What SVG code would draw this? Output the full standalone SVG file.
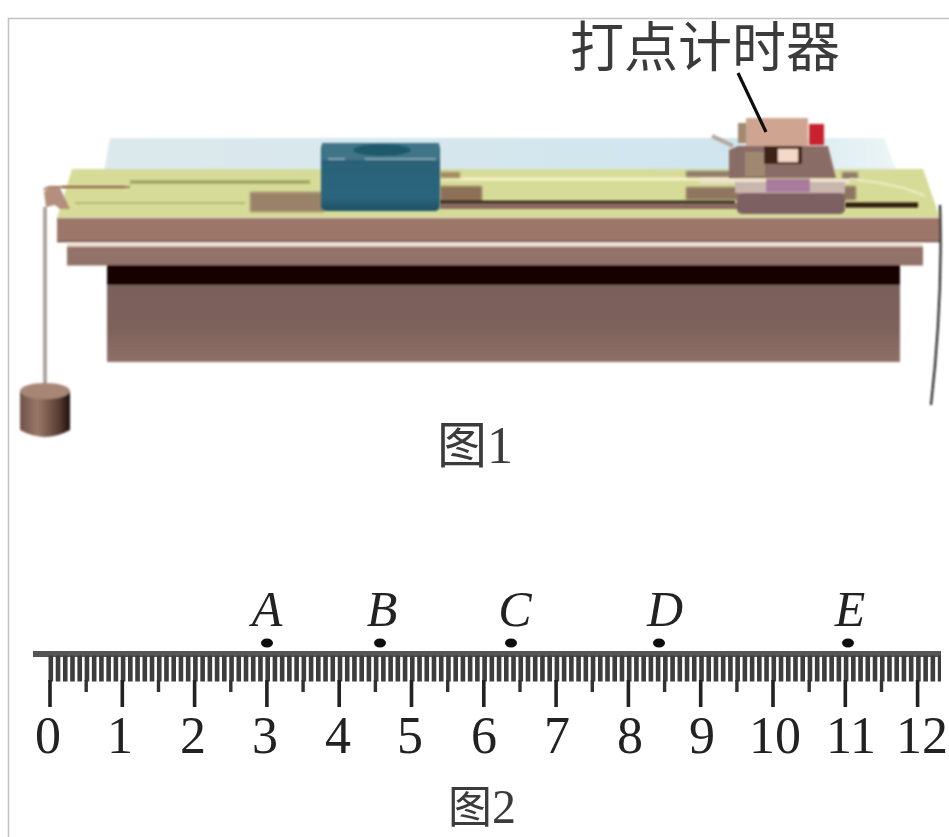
<svg xmlns="http://www.w3.org/2000/svg" width="949" height="837" viewBox="0 0 949 837">
<style>
.cjk{font-family:"Noto Sans CJK SC","Liberation Serif",serif;fill:#3a3a3a}
.num{font-family:"Liberation Serif",serif;font-size:52px;fill:#222;text-anchor:middle}
.let{font-family:"Liberation Serif",serif;font-style:italic;font-size:50px;fill:#222;text-anchor:middle}
.b1{filter:url(#soft)}
.b2{filter:url(#softer)}
</style>
<defs>
<filter id="soft" x="-5%" y="-5%" width="110%" height="110%"><feGaussianBlur stdDeviation="1"/></filter>
<filter id="softer" x="-10%" y="-30%" width="120%" height="160%"><feGaussianBlur stdDeviation="1.600"/></filter>
<filter id="softT" x="-5%" y="-5%" width="110%" height="110%"><feGaussianBlur stdDeviation="0.6"/></filter>
<linearGradient id="skirt" x1="0" y1="0" x2="0" y2="1"><stop offset="0" stop-color="#7a605b"/><stop offset="0.55" stop-color="#7d625c"/><stop offset="1" stop-color="#907068"/></linearGradient>
<linearGradient id="block" x1="0" y1="0" x2="0" y2="1"><stop offset="0" stop-color="#2b5f74"/><stop offset="0.8" stop-color="#2c667e"/><stop offset="1" stop-color="#1f4f62"/></linearGradient>
<linearGradient id="cyl" x1="0" y1="0" x2="1" y2="0"><stop offset="0" stop-color="#6e5248"/><stop offset="0.35" stop-color="#9a7868"/><stop offset="0.8" stop-color="#553a30"/><stop offset="1" stop-color="#1c0f0c"/></linearGradient>
<linearGradient id="sky" x1="0" y1="0" x2="1" y2="0"><stop offset="0" stop-color="#dde9ec"/><stop offset="0.8" stop-color="#cfe5ee"/><stop offset="1" stop-color="#ecf5f6"/></linearGradient>
</defs>
<rect width="949" height="837" fill="#fff"/>
<path d="M8.500 837V18.500H949" fill="none" stroke="#c4c4c4" stroke-width="1.600"/>
<g id="figure1">
<g class="b1">
<polygon points="104,172 110,138 884,138 897,172" fill="url(#sky)"/>
<polygon points="72,169 923,169 940,218 57,218" fill="#d6dc98"/>
<path d="M130 182H310" stroke="#a3a866" stroke-width="4"/>
<path d="M75 203H245" stroke="#b2b86e" stroke-width="2"/>
<path d="M62 187H125" stroke="#a88558" stroke-width="2"/>
<path d="M440 179H735" stroke="#f6f2c6" stroke-width="3"/>
</g>
<g class="b2">
<rect x="250" y="192" width="74" height="20" fill="#9a8268"/>
<rect x="440" y="186" width="42" height="17" fill="#8d7058"/>
<rect x="440" y="172" width="20" height="6" fill="#a08a60"/>
<rect x="686" y="187" width="54" height="13" fill="#8f7460"/>
<rect x="686" y="171" width="54" height="6" fill="#8f7c6c"/>
<rect x="842" y="172" width="16" height="7" fill="#8f7c6c"/>
<rect x="842" y="186" width="14" height="14" fill="#8f7460"/>
</g>
<g class="b1">
<rect x="440" y="203" width="300" height="6" fill="#8a6a60"/>
<path d="M440 202H735" stroke="#1e140c" stroke-width="2.500"/>
<path d="M845 205H918" stroke="#2c1b0a" stroke-width="5"/>
<polygon points="57,218 941,218 941,241 57,241" fill="#9c7769"/>
<path d="M57 241.500H941" stroke="#6b5048" stroke-width="1.500"/>
<rect x="67" y="243" width="856" height="3.500" fill="#f3e0d4"/>
<rect x="67" y="246.500" width="856" height="19" fill="#927269"/>
<rect x="107" y="265" width="793" height="21" fill="#170505"/>
<rect x="107" y="285" width="793" height="77" fill="url(#skirt)"/>
<path d="M940 205Q943 300 931 405" fill="none" stroke="#222" stroke-width="2.200"/>
<path d="M45 207V383" stroke="#a39a96" stroke-width="3.500"/>
<path d="M44 190Q47 186 56 187H130" fill="none" stroke="#a27a60" stroke-width="2"/>
<polygon points="44,192 50,187 60,188 70,209 60,209 55,205 46,207" fill="#b48f7d"/>
<path d="M20 391V430Q45 444 70 430V391Z" fill="url(#cyl)"/>
<ellipse cx="45" cy="391" rx="25" ry="8" fill="#a88674"/>
</g>
<g id="cart" class="b1">
<rect x="321" y="143" width="119" height="68" rx="5" fill="url(#block)"/>
<path d="M322 143H439V160H322Z" fill="#3f7488"/>
<ellipse cx="382" cy="150" rx="29" ry="6" fill="#1f5a6a"/>
<path d="M328 159H345M365 159H436" stroke="#7ca3ae" stroke-width="2"/>
</g>
<g id="timer" class="b1">
<path d="M712 136L733 146" stroke="#b5a59a" stroke-width="4"/>
<polygon points="729,150 738,146 828,146 836,178 729,178" fill="#8a6c66"/>
<rect x="738" y="123" width="14" height="20" fill="#a08a70"/>
<rect x="746" y="118" width="62" height="28" fill="#cfa592"/>
<rect x="809" y="124" width="15" height="21" fill="#c8222e"/>
<rect x="745" y="152" width="20" height="24" fill="#a08870"/>
<rect x="764" y="146" width="38" height="18" fill="#3c2418"/>
<rect x="778" y="149" width="20" height="13" fill="#f5d8c6"/>
<rect x="700" y="179" width="150" height="4" fill="#f0e0d4"/>
<rect x="735" y="182" width="110" height="11" fill="#c8b6ac"/>
<rect x="766" y="179" width="44" height="13" fill="#a87a9c"/>
<rect x="737" y="193" width="108" height="21" rx="5" fill="#7c6062"/>
<path d="M850 179Q900 184 925 196" fill="none" stroke="#f0eec4" stroke-width="2"/>
</g>
<path d="M738 73L766 132" stroke="#111" stroke-width="3.200" filter="url(#softT)"/>
<g filter="url(#softT)">
<text class="cjk" x="570" y="67" font-size="54">打点计时器</text>
<text class="cjk" x="437" y="463" font-size="50">图<tspan font-family="Liberation Serif" font-size="52">1</tspan></text>
</g>
</g>
<g id="figure2">
<g filter="url(#softT)">
<rect x="33" y="651" width="908" height="6" fill="#555"/>
<path d="M48.500 668.500H941" stroke="#3c3c3c" stroke-width="26" stroke-dasharray="4.600 2.630" fill="none"/>
<path d="M50 680V707M122.300 680V707M194.600 680V707M266.900 680V707M339.200 680V707M411.500 680V707M483.800 680V707M556.100 680V707M628.400 680V707M700.700 680V707M773 680V707M845.300 680V707M917.600 680V707" stroke="#222" stroke-width="3.600"/>
<path d="M86.200 680V692M158.500 680V692M230.800 680V692M303.100 680V692M375.400 680V692M447.700 680V692M520 680V692M592.300 680V692M664.600 680V692M736.900 680V692M809.200 680V692M881.500 680V692" stroke="#333" stroke-width="3.400"/>
<g fill="#111"><ellipse cx="267" cy="643" rx="6" ry="4.500"/><ellipse cx="380" cy="643" rx="6" ry="4.500"/><ellipse cx="511" cy="643" rx="6" ry="4.500"/><ellipse cx="659" cy="643" rx="6" ry="4.500"/><ellipse cx="848" cy="643" rx="6" ry="4.500"/></g>
<text class="let" x="267" y="626">A</text>
<text class="let" x="382" y="626">B</text>
<text class="let" x="515" y="626">C</text>
<text class="let" x="665" y="626">D</text>
<text class="let" x="850" y="626">E</text>
<text class="num" x="48" y="753">0</text>
<text class="num" x="120" y="753">1</text>
<text class="num" x="193" y="753">2</text>
<text class="num" x="265" y="753">3</text>
<text class="num" x="338" y="753">4</text>
<text class="num" x="410" y="753">5</text>
<text class="num" x="484" y="753">6</text>
<text class="num" x="557" y="753">7</text>
<text class="num" x="630" y="753">8</text>
<text class="num" x="702" y="753">9</text>
<text class="num" x="775" y="753">10</text>
<text class="num" x="851" y="753">11</text>
<text class="num" x="922" y="753">12</text>
<text class="cjk" x="448" y="823" font-size="44">图<tspan font-family="Liberation Serif" font-size="48">2</tspan></text>
</g>
</g>
</svg>
